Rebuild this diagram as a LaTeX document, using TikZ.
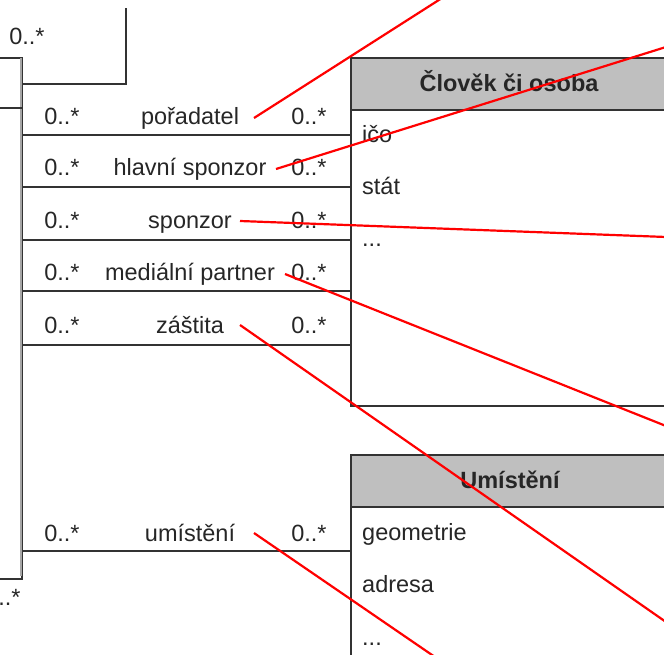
\documentclass[tikz,border=0pt]{standalone}
\usepackage{fontspec}
\setmainfont{Liberation Sans}
\begin{document}
\begin{tikzpicture}[x=1pt,y=-1pt,
  txt/.style={font=\fontsize{23.5}{28}\selectfont, text=black!85, inner sep=0pt, anchor=base},
  ttl/.style={txt, font=\fontsize{23.5}{28}\selectfont\bfseries},
  ln/.style={draw=black!80, line width=2pt},
  redline/.style={draw=red, line width=2.2pt},
  hdr/.style={fill=gray!50, draw=black!80, line width=2pt, inner sep=0pt}
]
\useasboundingbox (0,0) rectangle (664,655);
% left class box
\node[ln, fill=white, anchor=north east, minimum width=80pt, minimum height=521pt, inner sep=0pt] (leftbox) at (23,57) {};
\draw[gray!70, line width=1.5pt] (21,58) -- (21,576);
\draw[ln] (leftbox.west |- 0,108) -- (leftbox.east |- 0,108);
\node[txt] (mtop) at (27,45) {0..*};
\node[txt] (mbot) at (3,605) {0..*};
% self loop
\coordinate (loopTop) at (126,8);
\draw[ln] (leftbox.east |- 0,84) -| (loopTop);
% class Clovek ci osoba
\node[ln, fill=white, anchor=north west, minimum width=400pt, minimum height=348pt, inner sep=0pt] (osoba) at (350,57) {};
\node[hdr, anchor=north west, minimum width=400pt, minimum height=52pt] (osobahead) at (350,57) {};
\node[ttl] (osobatitle) at (509,92) {Člověk či osoba};
\node[txt, anchor=base west] (ico) at (362,143) {ičo};
\node[txt, anchor=base west] (stat) at (362,195) {stát};
\node[txt, anchor=base west] (odots) at (362,247) {...};
% class Umisteni
\node[ln, fill=white, anchor=north west, minimum width=400pt, minimum height=300pt, inner sep=0pt] (umisteni) at (350,454) {};
\node[hdr, anchor=north west, minimum width=400pt, minimum height=52pt] (umisteniHead) at (350,454) {};
\node[ttl] (umistenititle) at (510,488) {Umístění};
\node[txt, anchor=base west] (geom) at (362,540) {geometrie};
\node[txt, anchor=base west] (adresa) at (362,592) {adresa};
\node[txt, anchor=base west] (udots) at (362,645) {...};
% associations
\foreach \y/\b/\role/\nm in {135/125/pořadatel/a1, 187/176/hlavní sponzor/a2, 240/229/sponzor/a3, 291/280/mediální partner/a4, 345/333/záštita/a5}{
  \draw[ln] (leftbox.east |- 0,\y) -- (osoba.west |- 0,\y);
  \node[txt] (\nm L) at (62,\b) {0..*};
  \node[txt] (\nm R) at (309,\b) {0..*};
  \node[txt] (\nm) at (190,\b) {\role};
}
\draw[ln] (leftbox.east |- 0,551) -- (umisteni.west |- 0,551);
\node[txt] (a6L) at (62,541) {0..*};
\node[txt] (a6R) at (309,541) {0..*};
\node[txt] (a6) at (190,541) {umístění};
% red pointer lines
\coordinate (s1) at (254,118); \coordinate (e1) at (442,-2);
\coordinate (s2) at (276,169); \coordinate (e2) at (666,47);
\coordinate (s3) at (240,221); \coordinate (e3) at (666,237);
\coordinate (s4) at (285,274); \coordinate (e4) at (666,426);
\coordinate (s5) at (240,325); \coordinate (e5) at (666,622);
\coordinate (s6) at (254,533); \coordinate (e6) at (435,657);
\foreach \i in {1,...,6}{\draw[redline] (s\i) -- (e\i);}
\end{tikzpicture}
\end{document}
